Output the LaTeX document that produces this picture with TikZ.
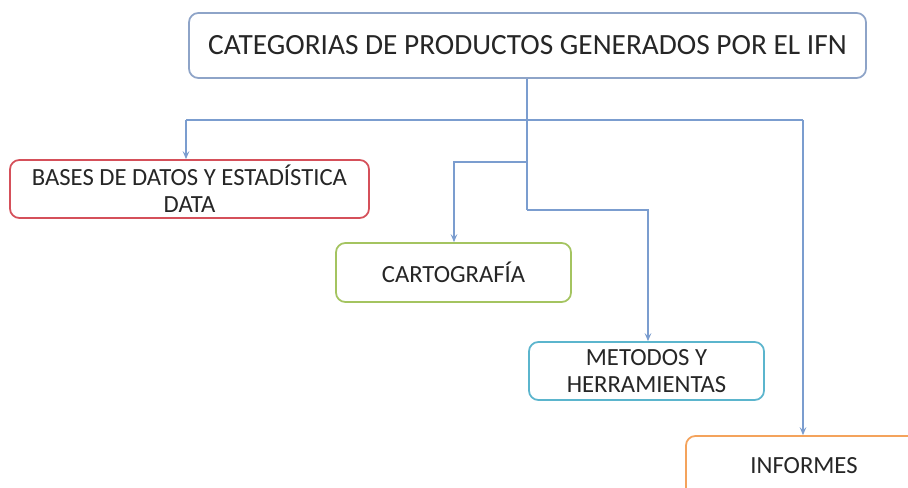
\documentclass[tikz,border=0pt]{standalone}
\usepackage{fontspec}
\setmainfont{Carlito}
\usetikzlibrary{arrows.meta}
\definecolor{topc}{HTML}{8EA4C8}
\definecolor{redc}{HTML}{D5505A}
\definecolor{greenc}{HTML}{A4C460}
\definecolor{cyanc}{HTML}{5BB5CD}
\definecolor{orangec}{HTML}{F4A35C}
\definecolor{linec}{HTML}{7B9DCF}
\tikzset{
  boxbase/.style={draw, line width=1.3pt, rounded corners=7pt, fill=white, inner sep=0pt, align=center, text=black!85},
  subfont/.style={font=\fontsize{18.5}{20.5}\selectfont},
  conn/.style={draw=linec, line width=0.9pt, -{Stealth[length=6pt,width=5pt,inset=2.5pt]}},
  plainconn/.style={draw=linec, line width=0.9pt}
}
\begin{document}
\begin{tikzpicture}[x=0.75pt,y=-0.75pt]
\useasboundingbox (0,0) rectangle (908,488);
\fill[white] (0,0) rectangle (908,488);
% boxes
\node[boxbase, draw=topc, minimum width=677*0.75pt, minimum height=65*0.75pt, font=\fontsize{22}{24}\selectfont] (top) at (527.5,45.5) {CATEGORIAS DE PRODUCTOS GENERADOS POR EL IFN};
\node[boxbase, draw=redc, minimum width=359*0.75pt, minimum height=58*0.75pt, subfont] (bases) at (189.5,189) {BASES DE DATOS Y ESTADÍSTICA\\DATA};
\node[boxbase, draw=greenc, minimum width=235*0.75pt, minimum height=59*0.75pt, subfont] (carto) at (453.5,272.5) {CARTOGRAFÍA};
\node[boxbase, draw=cyanc, minimum width=235*0.75pt, minimum height=58*0.75pt, subfont] (metodos) at (646.5,371) {METODOS Y\\HERRAMIENTAS};
\begin{scope}
\clip (0,0) rectangle (908,488);
\node[boxbase, draw=orangec, minimum width=260*0.75pt, minimum height=70*0.75pt] (informes) at (816,471) {};
\end{scope}
\node[subfont, text=black!85] (informestxt) at (804,466) {INFORMES};
% connectors
\coordinate (trunk) at (527,120);
\coordinate (jb) at (186,120);
\coordinate (ji) at (803,120);
\coordinate (jc1) at (527,162);
\coordinate (jc2) at (454,162);
\coordinate (jm1) at (527,210);
\coordinate (jm2) at (648,210);
\draw[plainconn] (top.south -| trunk) -- (jm1);
\draw[plainconn] (jb) -- (ji);
\draw[conn] (jb) -- (bases.north -| jb);
\draw[conn] (ji) -- (informes.north -| ji);
\draw[conn] (jc1) -- (jc2) -- (carto.north -| jc2);
\draw[conn] (jm1) -- (jm2) -- (metodos.north -| jm2);
\end{tikzpicture}
\end{document}
